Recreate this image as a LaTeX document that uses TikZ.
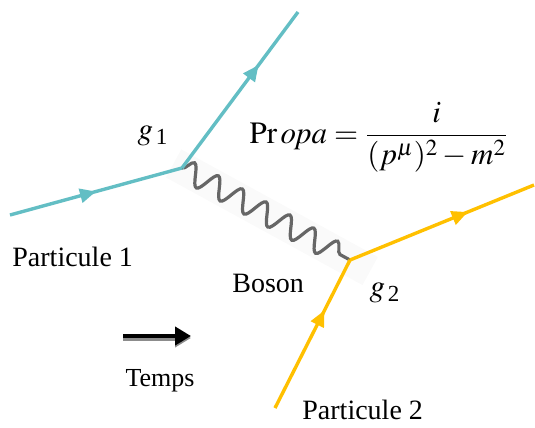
\documentclass[tikz,border=0pt]{standalone}
\usepackage{mathptmx}
\usepackage{fontspec}
\setmainfont{Liberation Serif}
\usetikzlibrary{arrows.meta,decorations.pathmorphing,decorations.markings,calc}
\definecolor{aqua}{RGB}{99,190,196}
\definecolor{gold}{RGB}{255,192,0}
\tikzset{
  midarrow/.style={postaction={decorate},decoration={markings,
      mark=at position #1 with {\arrow{Triangle[length=8pt,width=7pt]}}}},
  fermA/.style={aqua,line width=1.7pt},            % particle 1
  fermB/.style={gold,line width=1.7pt},            % particle 2
  boson/.style={decorate,decoration={snake,segment length=13.6pt,amplitude=5.3pt},
      black!60,line width=1.6pt},
  lbl/.style={font=\fontsize{14}{17}\selectfont,inner sep=0pt},
  small/.style={font=\fontsize{13}{15}\selectfont,inner sep=0pt},
  coupl/.style={font=\fontsize{15.5}{18}\selectfont,inner sep=0pt},
}
\newcommand{\subidx}[1]{\mbox{\fontsize{11.5}{13}\selectfont #1}}
\begin{document}
\begin{tikzpicture}[x=0.5pt,y=-0.5pt]
  \useasboundingbox (0,0) rectangle (535,428);
  % vertices and free ends
  \coordinate (in1) at (10,215); \coordinate (v1) at (182,168);
  \coordinate (out1) at (298,12);
  \coordinate (in2) at (275,408); \coordinate (v2) at (350,260);
  \coordinate (out2) at (534,185);
  % boson line
  \draw[gray!4,line width=16pt] ($(v1)!-0.05!(v2)$) -- ($(v1)!1.12!(v2)$);
  \draw[boson] (v1) -- (v2);
  % fermion lines
  \draw[fermA,midarrow=0.5] (in1) -- (v1);
  \draw[fermA,midarrow=0.66] (v1) -- (out1);
  \draw[fermB,midarrow=0.66] (in2) -- (v2);
  \draw[fermB,midarrow=0.64] (v2) -- (out2);
  % labels
  \node[coupl] (g1) at (153,136) {$g_{\,\subidx{1}}$};
  \node[coupl] (g2) at (385,293) {$g_{\,\subidx{2}}$};
  \node[lbl,anchor=base west] (p1) at (12,266) {Particule 1};
  \node[lbl,anchor=base west] (p2) at (302,419) {Particule 2};
  \node[lbl,anchor=base west] (bos) at (232,292) {Boson};
  \node[coupl] (prop) at (379,137)
    {$\displaystyle\mathrm{Pr}\,\mathit{opa}=\frac{i}{(p^{\mu})^2-m^2}$};
  % time arrow
  \coordinate (t0) at (123,336); \coordinate (t1) at (191,336);
  \draw[black!45,line width=2.6pt,-{Triangle[length=8pt,width=9pt]}]
    ($(t0)+(0,2)$) -- ($(t1)+(0,2)$);
  \draw[black,line width=2.4pt,-{Triangle[length=8pt,width=9pt]}] (t0) -- (t1);
  \node[small,anchor=base] (tps) at (160,386) {Temps};
\end{tikzpicture}
\end{document}
